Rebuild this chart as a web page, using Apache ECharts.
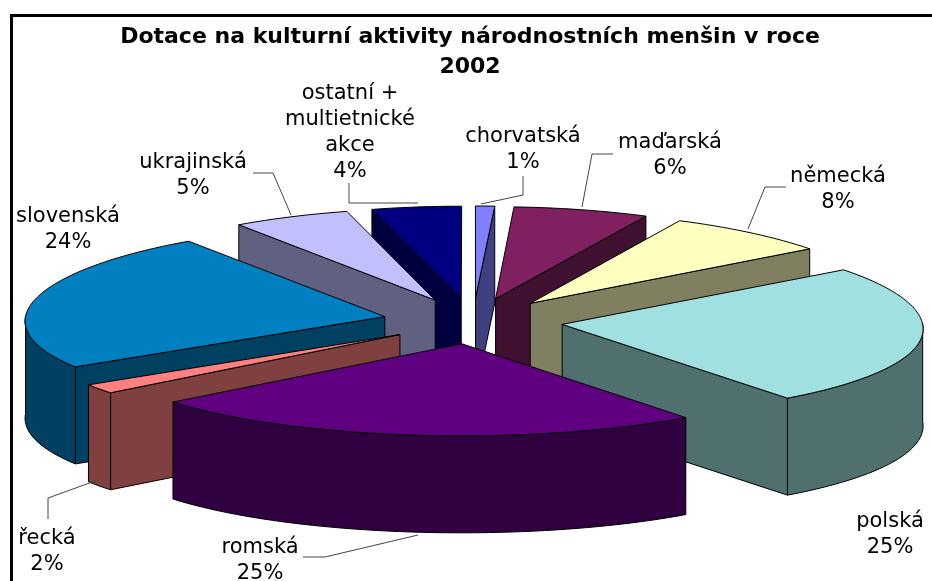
<!DOCTYPE html>
<html><head><meta charset="utf-8">
<script src="https://cdn.jsdelivr.net/npm/echarts@6/dist/echarts.min.js"></script>
<style>html,body{margin:0;padding:0;background:#fff}#c{width:932px;height:581px}</style>
</head><body><div id="c"></div>
<script>
// Data (clockwise from 12 o'clock); slice sizes, labels as printed
const names = ['chorvatská','maďarská','německá','polská','romská','řecká','slovenská','ukrajinská','ostatní +\nmultietnické\nakce'];
const values = [0.9,6.35,7.65,24.9,24.3,1.7,24.49,5.49,4.22];
const percentLabels = ['1%','6%','8%','25%','25%','2%','24%','5%','4%'];
const topColors = ['#8080ff','#802060','#ffffc0','#a0e0e0','#600080','#ff8080','#0080c0','#c0c0ff','#000080'];
const sideColors = ['#404080','#401030','#808060','#507070','#300040','#804040','#004060','#606080','#000040'];
// Layout of the projected pie
const geo = {cx:473, cy:321, rx:360, ry:92, height:97, explode:0.25, persp:0.04};
const labelCenters = [[523,150],[670,156],[838,190],[890,535],[260,561],[47,552],[68,230],[193,176],[350,133]];
const leaders = [
 [[523,176],[523,195],[481,204]],
 [[613,154],[592,154],[582,207]],
 [[786,187],[765,187],[748,229]],
 [[303,557],[325,557],[418,535]],
 [[48,519],[48,498],[95,481]],
 [[253,173],[273,173],[291,215]],
 [[349,183],[349,203],[418,203]]
];
const total = values.reduce((a,b)=>a+b,0);
let cum = 0;
const slices = values.map((v,i)=>{
  const a0 = cum/total*2*Math.PI; cum += v;
  const a1 = cum/total*2*Math.PI;
  return {i, a0, a1, mid:(a0+a1)/2};
});
// back-to-front paint order
const order = slices.slice().sort((p,q)=>Math.cos(q.mid)-Math.cos(p.mid));
function project(wx, wz, h){
  const s = 1 + geo.persp*wz;
  return [geo.cx + geo.rx*wx*s, geo.cy + geo.ry*wz + h];
}
function renderSlice(params, api){
  const idx = api.value(0);
  const sl = slices[idx];
  const ox = Math.sin(sl.mid)*geo.explode, oz = -Math.cos(sl.mid)*geo.explode;
  const rim = (a,h)=>project(ox+Math.sin(a),oz-Math.cos(a),h);
  const apexT = project(ox,oz,0), apexB = project(ox,oz,geo.height);
  const n = Math.max(4, Math.ceil((sl.a1-sl.a0)/0.03));
  const top = [];
  for(let k=0;k<=n;k++) top.push(rim(sl.a0+(sl.a1-sl.a0)*k/n,0));
  const stroke = {stroke:'#000', lineWidth:1, lineJoin:'round'};
  const side = Object.assign({fill:sideColors[idx]},stroke);
  const children = [];
  const poly = (pts,style)=>children.push({type:'polygon',shape:{points:pts},style});
  // radial walls, only those facing the viewer
  if(Math.sin(sl.a0)<0) poly([apexT,rim(sl.a0,0),rim(sl.a0,geo.height),apexB],side);
  if(Math.sin(sl.a1)>0) poly([apexT,rim(sl.a1,0),rim(sl.a1,geo.height),apexB],side);
  // outer wall, front half of the rim only
  const from = Math.max(sl.a0,Math.PI/2), to = Math.min(sl.a1,Math.PI*1.5);
  if(to>from){
    const up=[],down=[];
    const m = Math.max(4, Math.ceil((to-from)/0.03));
    for(let k=0;k<=m;k++){
      const a = from+(to-from)*k/m;
      up.push(rim(a,0)); down.push(rim(a,geo.height));
    }
    poly(up.concat(down.reverse()),side);
  }
  poly([apexT].concat(top),Object.assign({fill:topColors[idx]},stroke));
  return {type:'group',children};
}
const graphics = [
 {type:'rect',silent:true,shape:{x:11.5,y:15.5,width:1000,height:1000},style:{fill:'none',stroke:'#000',lineWidth:3}},
 {type:'text',style:{x:470,y:52,text:'Dotace na kulturní aktivity národnostních menšin v roce\n2002',textAlign:'center',textVerticalAlign:'middle',font:'bold 22px "DejaVu Sans"',lineHeight:30,fill:'#000'}}
];
leaders.forEach(pts=>graphics.push({type:'polyline',shape:{points:pts},style:{stroke:'#444',lineWidth:1,fill:'none'}}));
names.forEach((nm,i)=>graphics.push({type:'text',style:{x:labelCenters[i][0],y:labelCenters[i][1],text:nm+'\n'+percentLabels[i],textAlign:'center',textVerticalAlign:'middle',font:'21px "DejaVu Sans"',lineHeight:26,fill:'#000'}}));
const chart = echarts.init(document.getElementById('c'),null,{renderer:'canvas'});
chart.setOption({
  animation:false,
  backgroundColor:'#fff',
  series:[{type:'custom',coordinateSystem:'none',renderItem:renderSlice,data:order.map(s=>[s.i]),silent:true,z:1}],
  graphic:{elements:graphics.map(g=>Object.assign({z:10},g))}
});
</script></body></html>
